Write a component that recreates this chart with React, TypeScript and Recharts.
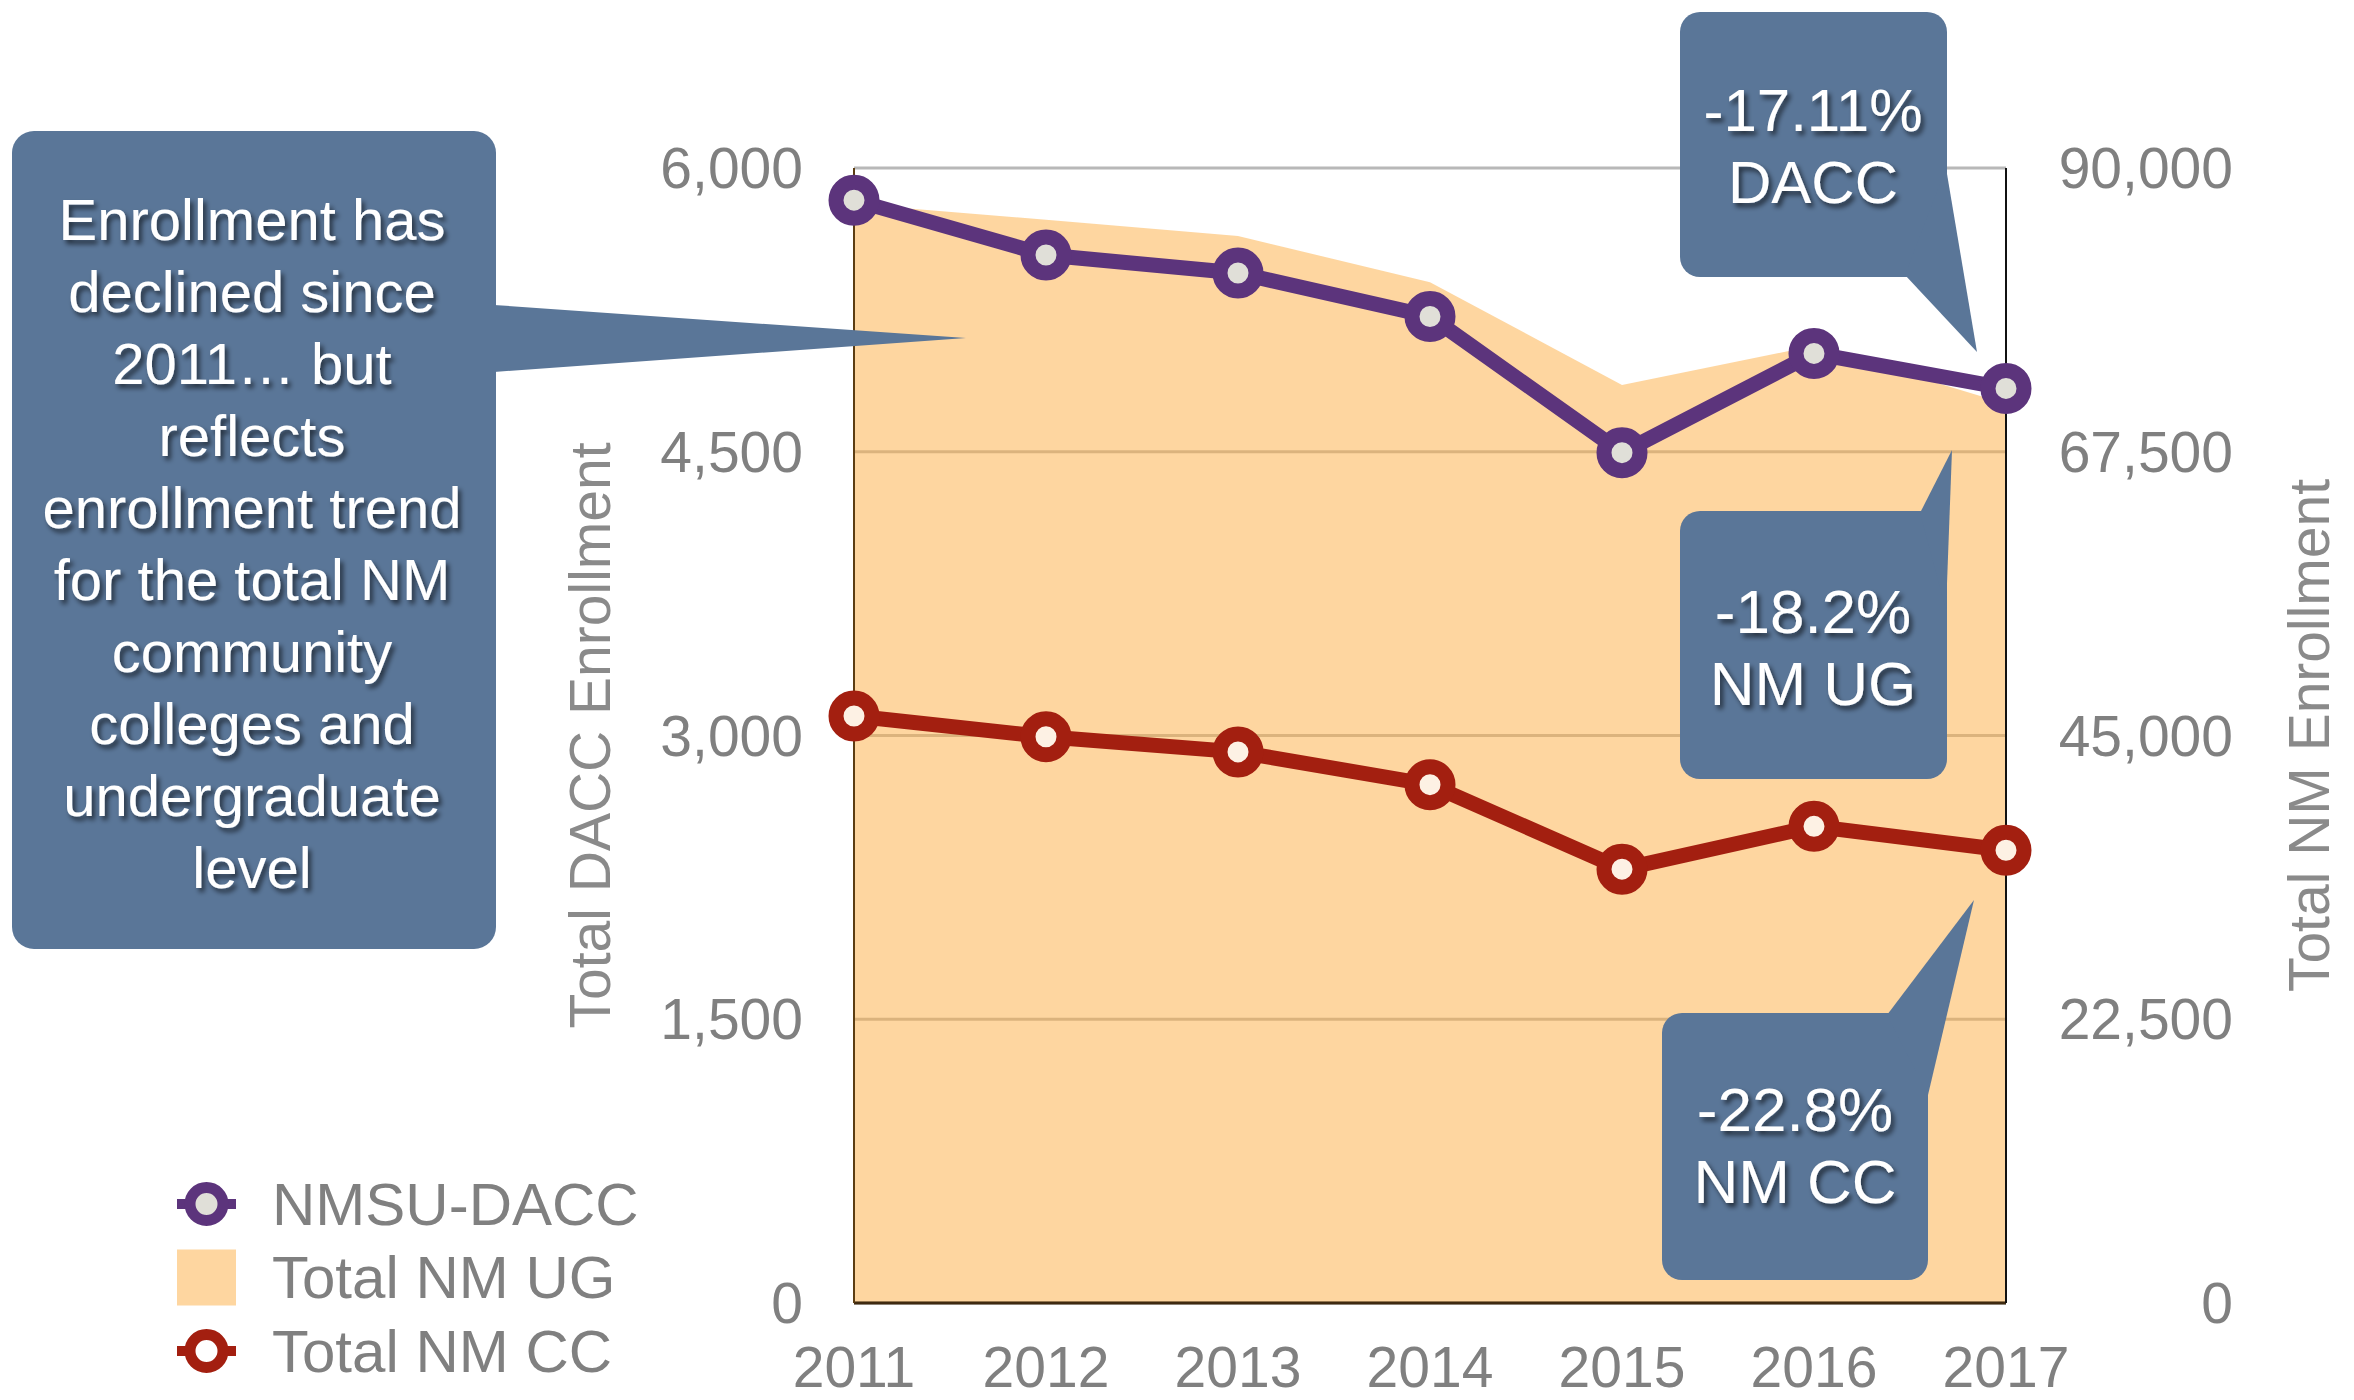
import {
  Area,
  CartesianGrid,
  ComposedChart,
  Line,
  XAxis,
  YAxis,
} from 'recharts';

const years = ['2011', '2012', '2013', '2014', '2015', '2016', '2017'];
const daccEnrollment = [5830, 5540, 5445, 5215, 4495, 5020, 4835];
const nmUndergrad = [87150, 85900, 84600, 80950, 72800, 75900, 71300];
const nmCommunityCollege = [46550, 44900, 43700, 41100, 34400, 37800, 35900];

const daccTicks = [0, 1500, 3000, 4500, 6000];
const nmTicks = [0, 22500, 45000, 67500, 90000];

const legendLabels = ['NMSU-DACC', 'Total NM UG', 'Total NM CC'];

const mainNote = [
  'Enrollment has',
  'declined since',
  '2011… but',
  'reflects',
  'enrollment trend',
  'for the total NM',
  'community',
  'colleges and',
  'undergraduate',
  'level',
];
const daccNote = ['-17.11%', 'DACC'];
const ugNote = ['-18.2%', 'NM UG'];
const ccNote = ['-22.8%', 'NM CC'];

const data = years.map((year, i) => ({
  year,
  dacc: daccEnrollment[i],
  ug: nmUndergrad[i],
  cc: nmCommunityCollege[i],
}));

const FONT = '"Liberation Sans", Arial, Helvetica, sans-serif';
const GREY = '#808080';
const PURPLE = '#5c347c';
const RED = '#a31f10';
const PEACH = '#fed6a0';
const CALLOUT = '#5a7698';

const fmt = (v: number) => v.toLocaleString('en-US');

function RightTick(props: any) {
  const { x, y, payload } = props;
  return (
    <text
      x={x + 176}
      y={y}
      dy="0.355em"
      textAnchor="end"
      fill={GREY}
      fontSize={57}
      fontFamily={FONT}
    >
      {fmt(payload.value)}
    </text>
  );
}

function axisTitle(text: string, fromRight: number) {
  return (props: any) => {
    const vb = props.viewBox;
    const cx = vb.x + vb.width - fromRight;
    const cy = vb.y + vb.height / 2;
    return (
      <text
        x={cx}
        y={cy}
        transform={`rotate(-90 ${cx} ${cy})`}
        textAnchor="middle"
        dominantBaseline="central"
        fill="#8a8a8a"
        fontSize={57}
        fontFamily={FONT}
      >
        {text}
      </text>
    );
  };
}

function NoteText({ lines, cx, cy, step, size }: { lines: string[]; cx: number; cy: number; step: number; size: number }) {
  return (
    <g filter="url(#txtShadow)">
      {lines.map((l, i) => (
        <text
          key={i}
          x={cx}
          y={cy + i * step}
          textAnchor="middle"
          dominantBaseline="central"
          fill="#ffffff"
          fontSize={size}
          fontFamily={FONT}
        >
          {l}
        </text>
      ))}
    </g>
  );
}

function Overlay() {
  return (
    <svg
      width={2354}
      height={1400}
      style={{ position: 'absolute', left: 0, top: 0, pointerEvents: 'none' }}
    >
      <defs>
        <filter id="txtShadow" x="-10%" y="-30%" width="130%" height="170%">
          <feDropShadow dx="3" dy="4" stdDeviation="2.5" floodColor="#000" floodOpacity="0.6" />
        </filter>
      </defs>

      {/* big note on the left */}
      <rect x={12} y={131} width={484} height={818} rx={22} fill={CALLOUT} />
      <polygon points="494,305 966,338 494,372" fill={CALLOUT} />
      <NoteText lines={mainNote} cx={252} cy={219} step={72.1} size={58} />

      {/* DACC change */}
      <rect x={1680} y={12} width={267} height={265} rx={20} fill={CALLOUT} />
      <polygon points="1905,275 1977,352 1946,168" fill={CALLOUT} />
      <NoteText lines={daccNote} cx={1813} cy={110} step={72} size={60} />

      {/* NM UG change */}
      <rect x={1680} y={511} width={267} height={268} rx={20} fill={CALLOUT} />
      <polygon points="1920,513 1952,450 1946,610" fill={CALLOUT} />
      <NoteText lines={ugNote} cx={1813} cy={611} step={72} size={62} />

      {/* NM CC change */}
      <rect x={1662} y={1013} width={266} height={267} rx={20} fill={CALLOUT} />
      <polygon points="1887,1015 1974,900 1928,1095" fill={CALLOUT} />
      <NoteText lines={ccNote} cx={1795} cy={1109} step={72} size={62} />

      {/* legend */}
      {legendLabels.map((label, i) => {
        const cy = 1204 + i * 73.5;
        return (
          <g key={label}>
            {i === 1 ? (
              <rect x={177} y={cy - 28} width={59} height={56} fill={PEACH} />
            ) : (
              <g>
                <line x1={177} x2={236} y1={cy} y2={cy} stroke={i === 0 ? PURPLE : RED} strokeWidth={10} />
                <circle
                  cx={206.5}
                  cy={cy}
                  r={16.5}
                  stroke={i === 0 ? PURPLE : RED}
                  strokeWidth={11}
                  fill={i === 0 ? '#e0dfd8' : '#ffffff'}
                />
              </g>
            )}
            <text
              x={272}
              y={cy}
              dominantBaseline="central"
              fill={GREY}
              fontSize={60}
              fontFamily={FONT}
            >
              {label}
            </text>
          </g>
        );
      })}
    </svg>
  );
}

export default function App() {
  return (
    <div style={{ position: 'relative', width: 2354, height: 1400, background: '#fff' }}>
      <style>{'body{margin:0}'}</style>
      <ComposedChart
        width={2354}
        height={1400}
        data={data}
        margin={{ top: 168, right: 0, bottom: 0, left: 0 }}
      >
        <CartesianGrid
          yAxisId="dacc"
          vertical={false}
          stroke="#b8b8b8"
          strokeWidth={3}
        />
        <XAxis
          dataKey="year"
          scale="point"
          padding={{ left: 0, right: 0 }}
          interval={0}
          height={97}
          tickLine={false}
          tickSize={0}
          tickMargin={44}
          axisLine={{ stroke: '#3f2a10', strokeWidth: 3 }}
          tick={{ fill: GREY, fontSize: 57, fontFamily: FONT }}
        />
        <YAxis
          yAxisId="dacc"
          orientation="left"
          width={854}
          domain={[0, 6000]}
          ticks={daccTicks}
          tickFormatter={fmt}
          tickLine={false}
          tickSize={0}
          tickMargin={51}
          axisLine={{ stroke: '#5c3d12', strokeWidth: 2 }}
          tick={{ fill: GREY, fontSize: 57, fontFamily: FONT }}
          label={axisTitle('Total DACC Enrollment', 264)}
        />
        <YAxis
          yAxisId="nm"
          orientation="right"
          width={348}
          domain={[0, 90000]}
          ticks={nmTicks}
          tickLine={false}
          tickSize={0}
          tickMargin={51}
          axisLine={{ stroke: '#111111', strokeWidth: 2 }}
          tick={<RightTick />}
          label={axisTitle('Total NM Enrollment', 45)}
        />
        <Area
          yAxisId="nm"
          type="linear"
          dataKey="ug"
          name="Total NM UG"
          stroke="none"
          fill="#fdad41"
          fillOpacity={0.5}
          isAnimationActive={false}
        />
        <Line
          yAxisId="nm"
          type="linear"
          dataKey="cc"
          name="Total NM CC"
          stroke={RED}
          strokeWidth={15}
          dot={{ r: 18, stroke: RED, strokeWidth: 15, fill: '#fdf1e4' }}
          activeDot={false}
          isAnimationActive={false}
        />
        <Line
          yAxisId="dacc"
          type="linear"
          dataKey="dacc"
          name="NMSU-DACC"
          stroke={PURPLE}
          strokeWidth={15}
          dot={{ r: 18, stroke: PURPLE, strokeWidth: 15, fill: '#e0dfd8' }}
          activeDot={false}
          isAnimationActive={false}
        />
      </ComposedChart>
      <Overlay />
    </div>
  );
}
